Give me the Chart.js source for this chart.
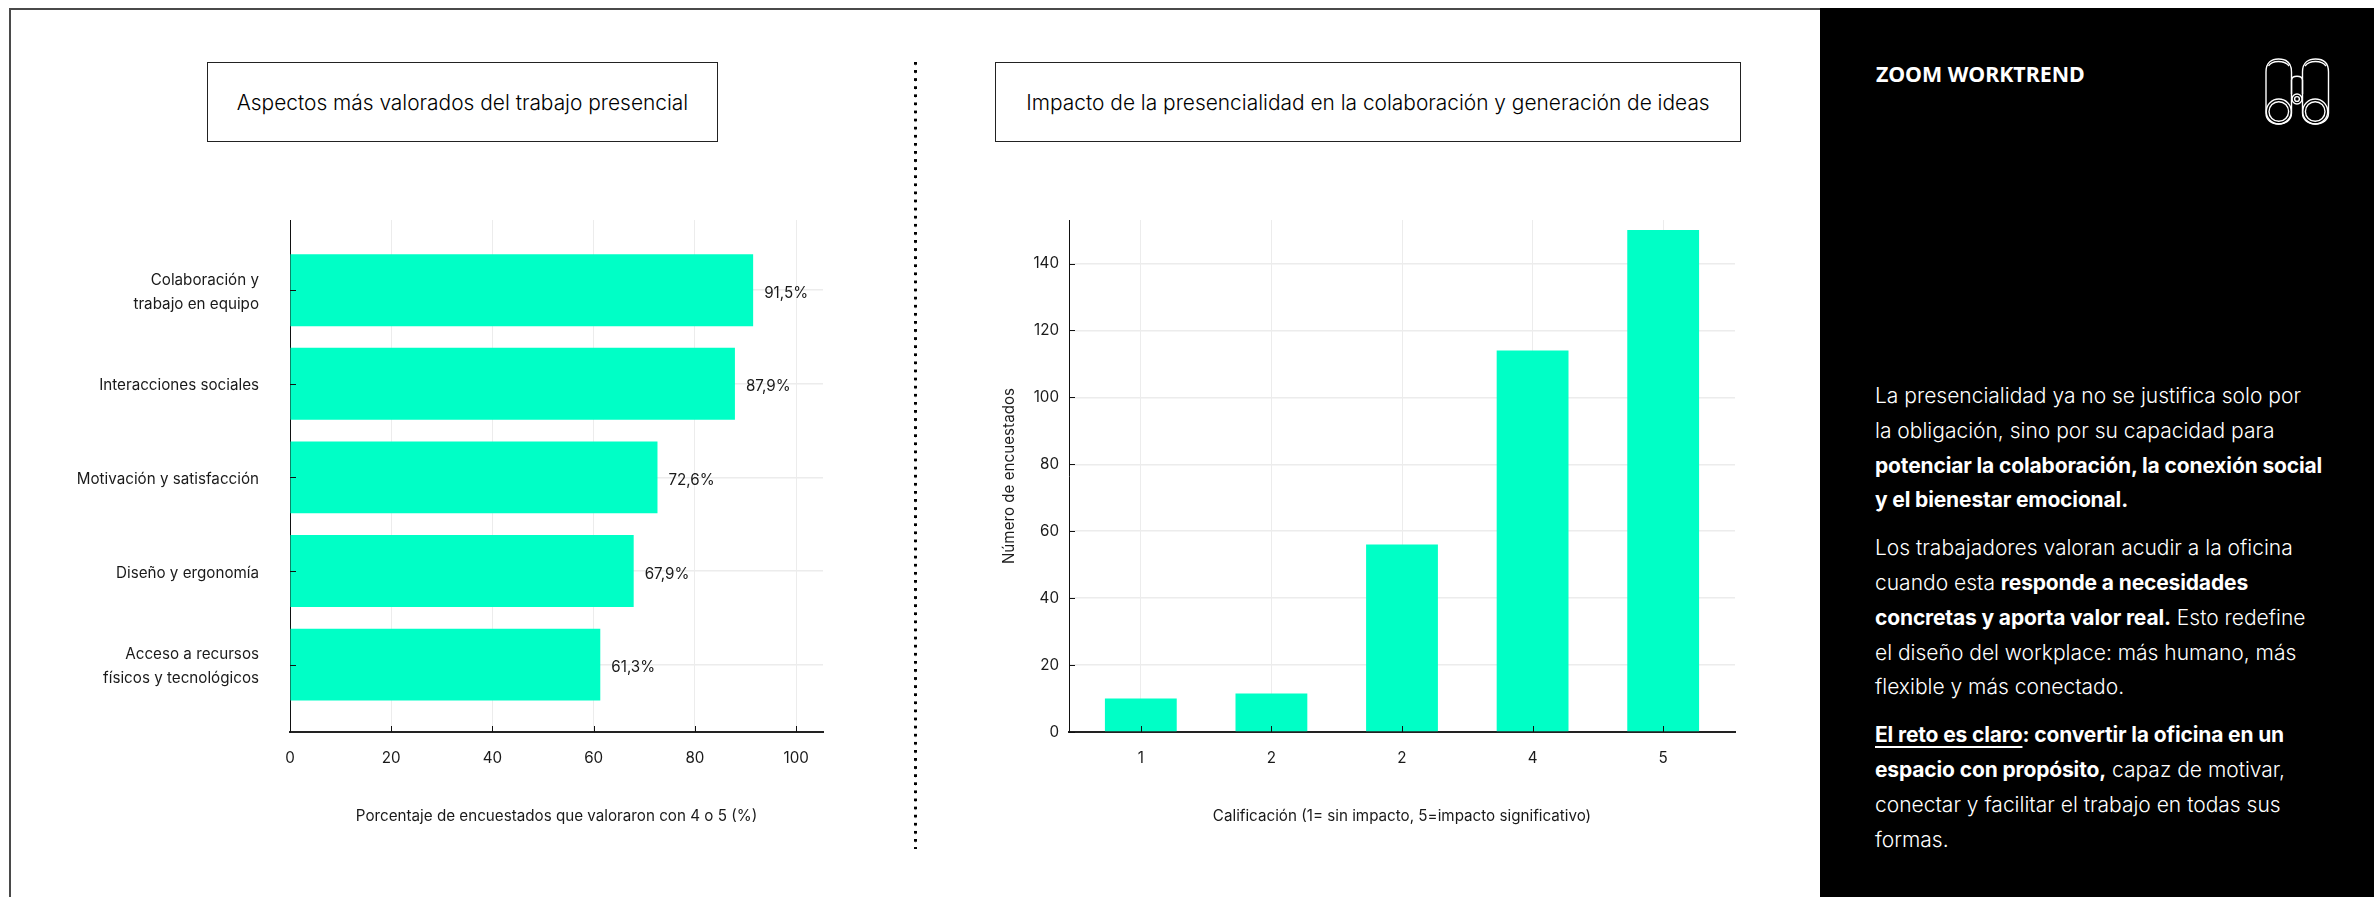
<!DOCTYPE html>
<html lang="es">
<head>
<meta charset="utf-8">
<title>Zoom Worktrend</title>
<script src="https://cdn.jsdelivr.net/npm/chart.js@4"></script>
<style>
  html, body { margin: 0; padding: 0; background: #fff; }
  body { position: relative; width: 2374px; height: 897px; overflow: hidden; font-family: Inter, sans-serif; color: #111; }
  .frame { position: absolute; left: 9px; top: 8px; width: 1811px; height: 889px; border-left: 2px solid #4a4a4a; border-top: 2px solid #4a4a4a; box-sizing: border-box; }
  .title-box { position: absolute; top: 62px; height: 80px; box-sizing: border-box; border: 1.5px solid #222; display: flex; align-items: center; justify-content: center; font-size: 20.9px; font-weight: 300; color: #000; white-space: nowrap; }
  .divider { position: absolute; left: 914px; top: 62px; width: 3px; height: 787px; background-image: radial-gradient(circle at 1.5px 1.5px, #000 1.5px, transparent 1.7px); background-size: 3px 8.1px; background-repeat: repeat-y; }
  canvas { position: absolute; }
  .panel { position: absolute; left: 1820px; top: 8px; width: 554px; height: 889px; background: #000; color: #fff; }
  .brand { position: absolute; left: 56px; top: 53px; font-family: "Noto Sans", sans-serif; font-weight: 700; font-size: 21.4px; line-height: 26px; white-space: nowrap; }
  .panel svg { position: absolute; left: 444px; top: 48px; }
  .copy { position: absolute; left: 55px; top: 371px; font-size: 21px; line-height: 34.8px; font-weight: 300; white-space: nowrap; }
  .copy p { margin: 0 0 13px; }
  .copy b { font-weight: 700; letter-spacing: -0.14px; }
  .copy u { text-underline-offset: 4px; }
</style>
</head>
<body>
<div class="frame"></div>
<div class="title-box" style="left:207px;width:511px">Aspectos más valorados del trabajo presencial</div>
<div class="title-box" style="left:995px;width:746px">Impacto de la presencialidad en la colaboración y generación de ideas</div>
<div class="divider"></div>
<canvas id="aspectos" width="900" height="700" style="left:10px;top:150px;width:900px;height:700px"></canvas>
<canvas id="impacto" width="880" height="700" style="left:930px;top:150px;width:880px;height:700px"></canvas>
<div class="panel">
  <div class="brand">ZOOM WORKTREND</div>
  <svg width="66" height="70" viewBox="0 0 66 70" fill="none" stroke="#fff" stroke-width="1.4">
    <path d="M2 16 C2 6 8 3 14.500 3 C21 3 27.500 6 27.500 16 L27.500 57 C27.500 64 21.500 68 14.500 68 C7.500 68 2 64 2 57 Z"/>
    <path d="M4.500 10 C7 6 11 5.500 14.500 5.500 C18 5.500 22 6 25 10"/>
    <circle cx="14.800" cy="55.500" r="12.500"/>
    <circle cx="14.800" cy="55.500" r="9.800"/>
    <path d="M38.500 16 C38.500 6 45 3 51.500 3 C58 3 64.500 6 64.500 16 L64.500 57 C64.500 64 58.500 68 51.500 68 C44.500 68 38.500 64 38.500 57 Z"/>
    <path d="M41 10 C44 6 48 5.500 51.500 5.500 C55 5.500 59 6 62 10"/>
    <circle cx="51.200" cy="55.500" r="12.500"/>
    <circle cx="51.200" cy="55.500" r="9.800"/>
    <path d="M27.500 24 C28 19 38 19 38.500 24 L38.500 38 M27.500 38 L27.500 24"/>
    <circle cx="33" cy="43" r="5"/>
    <circle cx="33" cy="43" r="2.400"/>
  </svg>
  <div class="copy">
    <p>La presencialidad ya no se justifica solo por<br>la obligación, sino por su capacidad para<br><b>potenciar la colaboración, la conexión social<br>y el bienestar emocional.</b></p>
    <p>Los trabajadores valoran acudir a la oficina<br>cuando esta <b>responde a necesidades<br>concretas y aporta valor real.</b> Esto redefine<br>el diseño del workplace: más humano, más<br>flexible y más conectado.</p>
    <p><b><u>El reto es claro</u>: convertir la oficina en un<br>espacio con propósito,</b> capaz de motivar,<br>conectar y facilitar el trabajo en todas sus<br>formas.</p>
  </div>
</div>
<script>
// Encuesta: aspectos valorados (porcentaje de respuestas 4 o 5)
const aspectLabels = [
  ['Colaboración y', 'trabajo en equipo'],
  'Interacciones sociales',
  'Motivación y satisfacción',
  'Diseño y ergonomía',
  ['Acceso a recursos', 'físicos y tecnológicos']
];
const aspectValues = [91.5, 87.9, 72.6, 67.9, 61.3];
const aspectTicks = [0, 20, 40, 60, 80, 100];

// Encuesta: impacto en la colaboración (número de respuestas por calificación)
const ratingLabels = ['1', '2', '2', '4', '5'];
const ratingValues = [10, 11.5, 56, 114, 150];
const countTicks = [0, 20, 40, 60, 80, 100, 120, 140];

const textFont = { family: 'Inter, sans-serif', size: 15.2, weight: '400', lineHeight: 1.6 };
const ink = '#1a1a1a';
const mint = '#00FFC6';
const gridColor = '#ECECEC';

Chart.defaults.font.family = textFont.family;
Chart.defaults.color = ink;
Chart.defaults.animation = false;

const fixedTicks = values => scale => { scale.ticks = values.map(value => ({ value })); };

// Short tick marks on the inner side of the axes, painted above the bars
const innerTicks = {
  id: 'innerTicks',
  afterDatasetsDraw(chart) {
    const { ctx, scales: { x, y } } = chart;
    ctx.save();
    ctx.strokeStyle = '#111';
    ctx.lineWidth = 1;
    ctx.beginPath();
    x.ticks.forEach(t => {
      const px = Math.round(x.getPixelForValue(t.value)) + 0.5;
      ctx.moveTo(px, y.bottom);
      ctx.lineTo(px, y.bottom - 6);
    });
    y.ticks.forEach(t => {
      const py = Math.round(y.getPixelForValue(t.value)) + 0.5;
      ctx.moveTo(x.left, py);
      ctx.lineTo(x.left + 6, py);
    });
    ctx.stroke();
    ctx.restore();
  }
};

// Percentage text just past the end of each horizontal bar
const valueLabels = {
  id: 'valueLabels',
  afterDatasetsDraw(chart) {
    const { ctx } = chart;
    ctx.save();
    ctx.font = '400 15.2px ' + textFont.family;
    ctx.fillStyle = ink;
    ctx.textAlign = 'left';
    ctx.textBaseline = 'middle';
    chart.getDatasetMeta(0).data.forEach((bar, i) => {
      const text = aspectValues[i].toFixed(1).replace('.', ',') + '%';
      ctx.fillText(text, bar.x + 11, bar.y + 3);
    });
    ctx.restore();
  }
};

new Chart(document.getElementById('aspectos'), {
  type: 'bar',
  plugins: [innerTicks, valueLabels],
  data: {
    datasets: [{
      data: aspectValues.map((v, i) => ({ x: v, y: i })),
      backgroundColor: mint,
      categoryPercentage: 1,
      barPercentage: 0.768
    }]
  },
  options: {
    indexAxis: 'y',
    responsive: false,
    layout: { padding: { top: 70, right: 87, left: 0, bottom: 0 } },
    plugins: { legend: { display: false }, tooltip: { enabled: false } },
    scales: {
      x: {
        type: 'linear', min: 0, max: 105.3,
        afterBuildTicks: fixedTicks(aspectTicks),
        afterFit(s) { s.height = 118; },
        grid: { color: gridColor, drawTicks: false },
        border: { color: '#222', width: 2 },
        ticks: { font: textFont, padding: 14, maxRotation: 0, color: ink },
        title: {
          display: true,
          text: 'Porcentaje de encuestados que valoraron con 4 o 5 (%)',
          font: textFont, color: ink, padding: { top: 0, bottom: 21 }
        }
      },
      y: {
        type: 'linear', reverse: true, min: -0.75, max: 4.72, offset: false,
        afterBuildTicks: fixedTicks(aspectLabels.map((_, i) => i)),
        afterFit(s) { s.width = 280; },
        grid: { color: gridColor, lineWidth: 1.5, drawTicks: false, offset: false },
        border: { color: '#111', width: 1 },
        ticks: {
          font: textFont, padding: 31, autoSkip: false, labelOffset: 2, color: ink,
          callback: value => aspectLabels[value]
        }
      }
    }
  }
});

new Chart(document.getElementById('impacto'), {
  type: 'bar',
  plugins: [innerTicks],
  data: {
    datasets: [{
      data: ratingValues.map((v, i) => ({ x: i, y: v })),
      backgroundColor: mint,
      categoryPercentage: 1,
      barPercentage: 0.55
    }]
  },
  options: {
    responsive: false,
    layout: { padding: { top: 70, right: 75, left: 0, bottom: 0 } },
    plugins: { legend: { display: false }, tooltip: { enabled: false } },
    scales: {
      x: {
        type: 'linear', min: -0.55, max: 4.55, offset: false,
        afterBuildTicks: fixedTicks(ratingLabels.map((_, i) => i)),
        afterFit(s) { s.height = 118; },
        grid: { color: gridColor, drawTicks: false, offset: false },
        border: { color: '#222', width: 2 },
        ticks: {
          font: textFont, padding: 14, maxRotation: 0, autoSkip: false, color: ink,
          callback: value => ratingLabels[value]
        },
        title: {
          display: true,
          text: 'Calificación (1= sin impacto, 5=impacto significativo)',
          font: textFont, color: ink, padding: { top: 0, bottom: 21 }
        }
      },
      y: {
        type: 'linear', min: 0, max: 153,
        afterBuildTicks: fixedTicks(countTicks),
        afterFit(s) { s.width = 139; },
        grid: { color: gridColor, lineWidth: 1.5, drawTicks: false },
        border: { color: '#111', width: 1 },
        ticks: { font: textFont, padding: 10, color: ink },
        title: {
          display: true,
          text: 'Número de encuestados',
          font: { family: textFont.family, size: 15.2, weight: '400' }, color: ink, padding: { top: 70, bottom: 0 }
        }
      }
    }
  }
});
</script>
</body>
</html>
